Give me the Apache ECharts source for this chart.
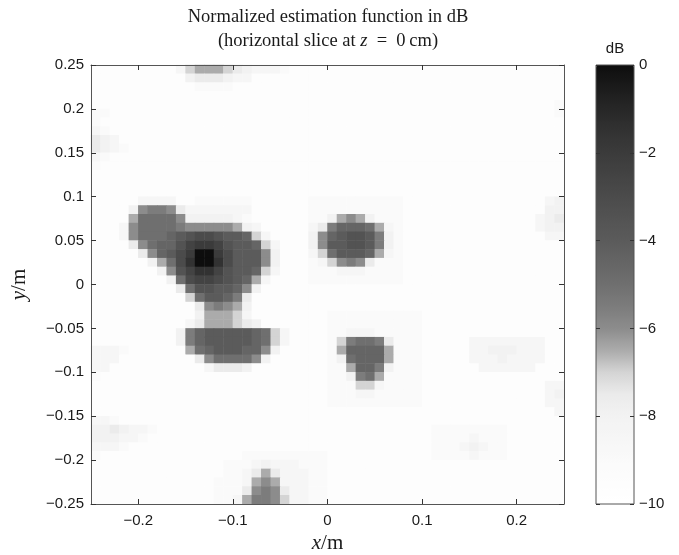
<!DOCTYPE html>
<html>
<head>
<meta charset="utf-8">
<script src="https://cdn.jsdelivr.net/npm/echarts@6/dist/echarts.min.js"></script>
<style>
  html, body { margin: 0; background: #fff; }
  #chart { width: 679px; height: 555px; }
</style>
</head>
<body>
<div id="chart"></div>
<script>
// cell centres (m), shared by x and y
const CELL_CENTERS = [-0.245, -0.235, -0.225, -0.215, -0.205, -0.195, -0.185, -0.175, -0.165, -0.155,
  -0.145, -0.135, -0.125, -0.115, -0.105, -0.095, -0.085, -0.075, -0.065, -0.055,
  -0.045, -0.035, -0.025, -0.015, -0.005, 0.005, 0.015, 0.025, 0.035, 0.045,
  0.055, 0.065, 0.075, 0.085, 0.095, 0.105, 0.115, 0.125, 0.135, 0.145,
  0.155, 0.165, 0.175, 0.185, 0.195, 0.205, 0.215, 0.225, 0.235, 0.245];

// one char per cell, index in LEVEL_CODES * -0.5 = dB
const LEVEL_CODES = "0123456789ABCDEFGHI.K";

// rows from y = 0.245 (top) down to y = -0.245
const GRID_ROWS = [
  ".........H EDDDEFGHHH I......... .......... ..........",
  ".......... GFFFGHH... .......... .......... ..........",
  ".......... .IIII..... .......... .......... ..........",
  ".......... .......... .......... .......... ..........",
  ".......... .......... .......... .......... .........I",
  "II........ .......... .......... .......... .........I",
  "I......... .......... .......... .......... ..........",
  "HI........ .......... .......... .......... ..........",
  "FGH....... .......... .......... .......... ..........",
  "FGHI...... .......... .......... .......... ..........",
  "HI........ .......... .......... .......... ..........",
  "I......... .......... .......... .......... ..........",
  ".......... .......... .......... .......... ..........",
  ".......... .......... .......... .......... ..........",
  ".......... .......... .......... .......... ..........",
  ".....HHHH. .IIIIII... ...IIIIIII III....... ........HG",
  "....GCBBCF HHHHHHH... ...IIIIIII III....... ........GG",
  "....DAAAAC GGGGGHI... ...IIGDCDG III....... .......HGF",
  "...HCAAAAB CCCCCDGH.. ...HFB999A DHI....... .......HGG",
  "...HCAAA98 7667889EH. ...GC98778 BGI....... ........HH",
  "....FCA997 54457889EH ...GC88778 BGI....... ..........",
  ".....FC986 40046888CG ...HEA8889 DHI....... ..........",
  "......GDA6 30036888CG ...IHECBCF III....... ..........",
  ".......GC7 53357889EH ...IIIHHHI III....... ..........",
  "........GA 6556789DH. ...IIIIIII III....... ..........",
  ".........F A77889CG.. .......... .......... ..........",
  ".......... EA889BF... .......... .......... ..........",
  ".......... .FCBCDG... .......... .......... ..........",
  ".......... .GDDDEH... .....IIIII IIIII..... ..........",
  ".......... HFDDDEFG.. .....IIIII IIIII..... ..........",
  ".........G B9888889AE H....IIHHH IIIII..... ..........",
  ".........G B9888889AE H....IEBAA BFIII..... HHHHHHHH..",
  "HHHI...... DA988899CG .....ID999 9DIII..... HHGGGHHH..",
  "HHH....... .FCAAAACG. .....IGA99 9DIII..... HHHGHHHH..",
  "HH........ ..HFFFG... .....IID99 BGIII..... .HHHHHH...",
  "I......... .......... .....IIGBA DIIII..... ..........",
  ".......... .......... .....IIIEE HIIII..... ........HH",
  ".......... .......... .....IIIHH IIIII..... ........HG",
  ".......... .......... .....IIIII IIIII..... ........HH",
  ".......... .......... .......... .......... .........H",
  "HHI....... .......... .......... .......... ..........",
  "GGFGHHI... .......... .......... ......IIII IIII......",
  "GGGHHI.... .......... .......... ......IIII HIII......",
  "HHHI...... .......... .......... ......IIIH GHII......",
  "I......... ......IIII IIIII..... ......IIII HIII......",
  ".......... ....IIIHGH HHIII..... .......... ..........",
  ".......... ....IIHFDF HHHII..... .......... ..........",
  ".......... ...IIIHDCD HHHII..... .......... ..........",
  ".......... ...IIIFCBC FHHII..... .......... ..........",
  ".......... ...IIHDBBC EHHII..... .......... .........."
];

const X_TICKS = [-0.2, -0.1, 0, 0.1, 0.2];
const DB_MIN = -10;
const DB_MAX = 0;

// gray ramp, -10 dB .. 0 dB in 0.5 dB steps
const GRAY_STOPS = ['#ffffff', '#fdfdfd', '#fafafa', '#f6f6f6', '#f2f2f2', '#ebebeb', '#d4d4d4',
  '#ababab', '#8c8c8c', '#7c7c7c', '#6f6f6f', '#656565', '#5b5b5b', '#535353', '#4b4b4b',
  '#434343', '#3b3b3b', '#323232', '#272727', '#1b1b1b', '#0d0d0d'];

const heatData = [];
GRID_ROWS.forEach((row, r) => {
  const cells = row.replace(/ /g, '');
  for (let c = 0; c < cells.length; c++) {
    heatData.push([c, CELL_CENTERS.length - 1 - r, -0.5 * LEVEL_CODES.indexOf(cells[c])]);
  }
});

const minus = v => String(v).replace('-', '\u2212');
const labelFont = { fontFamily: 'Liberation Sans', fontSize: 15, color: '#1a1a1a' };
const nameFont = {
  fontFamily: 'Liberation Serif', fontSize: 21, color: '#1a1a1a',
  rich: { i: { fontFamily: 'Liberation Serif', fontStyle: 'italic', fontSize: 21, color: '#1a1a1a' } }
};
const boxLine = { onZero: false, lineStyle: { color: '#555', width: 1 } };
const inTick = (vals) => ({ inside: true, length: 5, customValues: vals, lineStyle: { color: '#333' } });

const chart = echarts.init(document.getElementById('chart'));

chart.setOption({
  animation: false,
  backgroundColor: '#fff',
  title: [
    {
      text: 'Normalized estimation function in dB\n(horizontal slice at {i|z}\u2002=\u20020\u2009cm)',
      left: 328, top: 5, textAlign: 'center', padding: 0,
      textStyle: {
        fontFamily: 'Liberation Serif', fontSize: 18.5, fontWeight: 'normal', color: '#1a1a1a', lineHeight: 24,
        rich: { i: { fontFamily: 'Liberation Serif', fontStyle: 'italic', fontSize: 18.5, color: '#1a1a1a', lineHeight: 24 } }
      }
    },
    {
      text: 'dB', left: 615, top: 41, textAlign: 'center', padding: 0,
      textStyle: { fontFamily: 'Liberation Sans', fontSize: 15, fontWeight: 'normal', color: '#1a1a1a' }
    }
  ],
  grid: [
    { left: 91, top: 65, width: 473, height: 439, outerBoundsMode: 'none' },
    {
      left: 596, top: 65, width: 38, height: 439, outerBoundsMode: 'none',
      show: true, borderColor: '#555', borderWidth: 1, backgroundColor: 'transparent', z: 10
    }
  ],
  visualMap: {
    type: 'continuous', min: DB_MIN, max: DB_MAX, seriesIndex: 0, dimension: 2,
    left: 596, top: 65, itemWidth: 38, itemHeight: 439, padding: 0,
    calculable: false, hoverLink: false, realtime: false,
    inRange: { color: GRAY_STOPS }
  },
  xAxis: [
    { type: 'category', gridIndex: 0, data: CELL_CENTERS, show: false },
    {
      type: 'value', gridIndex: 0, position: 'bottom', min: -0.25, max: 0.25, z: 5,
      axisLine: boxLine, axisTick: inTick(X_TICKS), splitLine: { show: false },
      axisLabel: Object.assign({ customValues: X_TICKS, margin: 9, formatter: v => minus(+v.toFixed(2)) }, labelFont),
      name: '{i|x}/m', nameLocation: 'middle', nameGap: 26, nameTextStyle: nameFont
    },
    {
      type: 'value', gridIndex: 0, position: 'top', min: -0.25, max: 0.25, z: 5,
      axisLine: boxLine, axisTick: inTick(X_TICKS), axisLabel: { show: false }, splitLine: { show: false }
    },
    { type: 'value', gridIndex: 1, min: 0, max: 1, show: false }
  ],
  yAxis: [
    { type: 'category', gridIndex: 0, data: CELL_CENTERS, show: false },
    {
      type: 'value', gridIndex: 0, position: 'left', min: -0.25, max: 0.25, interval: 0.05, z: 5,
      axisLine: boxLine, axisTick: { inside: true, length: 5, lineStyle: { color: '#333' } }, splitLine: { show: false },
      axisLabel: Object.assign({ margin: 7, formatter: v => minus(+v.toFixed(2)) }, labelFont),
      name: '{i|y}/m', nameLocation: 'middle', nameGap: 61, nameRotate: 90, nameTextStyle: nameFont
    },
    {
      type: 'value', gridIndex: 0, position: 'right', min: -0.25, max: 0.25, interval: 0.05, z: 5,
      axisLine: boxLine, axisTick: { inside: true, length: 5, lineStyle: { color: '#333' } },
      axisLabel: { show: false }, splitLine: { show: false }
    },
    {
      type: 'value', gridIndex: 1, position: 'right', min: DB_MIN, max: DB_MAX, interval: 2, z: 11,
      axisLine: { show: false, onZero: false }, axisTick: { inside: true, length: 4, lineStyle: { color: '#333' } },
      axisLabel: Object.assign({ margin: 5, formatter: v => minus(v) }, labelFont), splitLine: { show: false }
    },
    {
      type: 'value', gridIndex: 1, position: 'left', min: DB_MIN, max: DB_MAX, interval: 2, z: 11,
      axisLine: { show: false, onZero: false }, axisTick: { inside: true, length: 4, lineStyle: { color: '#333' } },
      axisLabel: { show: false }, splitLine: { show: false }
    }
  ],
  series: [
    {
      type: 'heatmap', xAxisIndex: 0, yAxisIndex: 0, data: heatData,
      progressive: 0, emphasis: { disabled: true }, silent: true
    }
  ]
});
</script>
</body>
</html>
